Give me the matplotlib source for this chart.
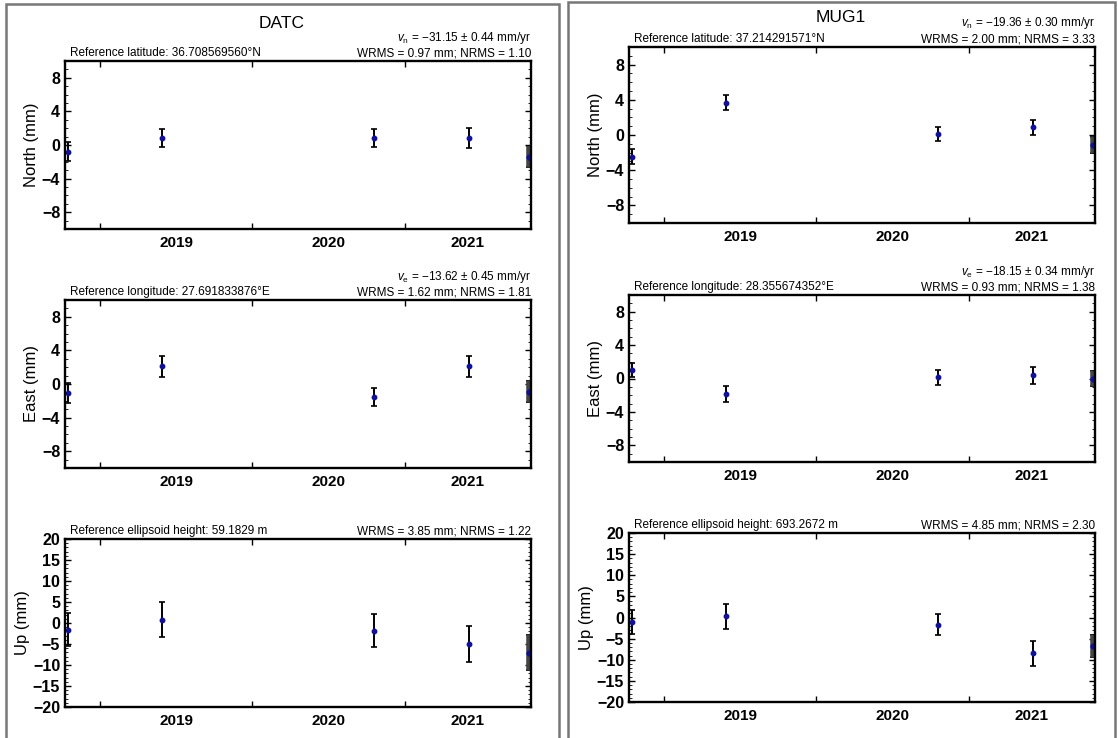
import numpy as np
import matplotlib
matplotlib.use("Agg")
import matplotlib.pyplot as plt
from matplotlib.patches import Rectangle
from matplotlib.ticker import MultipleLocator

plt.rcParams['font.family'] = ['Liberation Sans', 'DejaVu Sans']
plt.rcParams['mathtext.fontset'] = 'custom'
plt.rcParams['mathtext.it'] = 'Liberation Sans:italic'
plt.rcParams['mathtext.rm'] = 'Liberation Sans'

# epochs (decimal year), same for both stations
t = [2018.79, 2019.405, 2020.80, 2021.42, 2021.82]
xmin, xmax = 2018.77, 2021.83

# DATC
datc_n = [-0.8, 0.86, 0.78, 0.86, -1.37]
datc_n_err = [1.1, 1.07, 1.07, 1.2, 1.3]
datc_e = [-1.1, 2.13, -1.54, 2.13, -0.9]
datc_e_err = [1.18, 1.24, 1.12, 1.24, 1.24]
datc_u = [-1.6, 0.8, -1.8, -5.0, -7.1]
datc_u_err = [3.9, 4.2, 3.9, 4.2, 4.2]

# MUG1
mug1_n = [-2.45, 3.68, 0.08, 0.87, -1.15]
mug1_n_err = [0.87, 0.81, 0.8, 0.85, 0.9]
mug1_e = [1.03, -1.87, 0.12, 0.4, 0.0]
mug1_e_err = [0.8, 0.93, 0.85, 1.0, 0.95]
mug1_u = [-1.1, 0.24, -1.74, -8.5, -6.7]
mug1_u_err = [2.8, 3.0, 2.5, 2.9, 2.6]

year_labels = ['2019', '2020', '2021']
years = [2019, 2020, 2021]

stations = [
    dict(name='DATC', cx=282 / 1118, ty=1 - 24 / 738, x0=65 / 1118,
         boxes=[(61, 229), (300, 468), (539, 707)],
         data=[(datc_n, datc_n_err), (datc_e, datc_e_err), (datc_u, datc_u_err)],
         left=['Reference latitude: 36.708569560°N',
               'Reference longitude: 27.691833876°E',
               'Reference ellipsoid height: 59.1829 m'],
         vel=[r'$v_\mathrm{n}$ = −31.15 ± 0.44 mm/yr',
              r'$v_\mathrm{e}$ = −13.62 ± 0.45 mm/yr', None],
         rms=['WRMS = 0.97 mm; NRMS = 1.10',
              'WRMS = 1.62 mm; NRMS = 1.81',
              'WRMS = 3.85 mm; NRMS = 1.22']),
    dict(name='MUG1', cx=841 / 1118, ty=1 - 17 / 738, x0=629 / 1118,
         boxes=[(47, 223), (295, 462), (533, 702)],
         data=[(mug1_n, mug1_n_err), (mug1_e, mug1_e_err), (mug1_u, mug1_u_err)],
         left=['Reference latitude: 37.214291571°N',
               'Reference longitude: 28.355674352°E',
               'Reference ellipsoid height: 693.2672 m'],
         vel=[r'$v_\mathrm{n}$ = −19.36 ± 0.30 mm/yr',
              r'$v_\mathrm{e}$ = −18.15 ± 0.34 mm/yr', None],
         rms=['WRMS = 2.00 mm; NRMS = 3.33',
              'WRMS = 0.93 mm; NRMS = 1.38',
              'WRMS = 4.85 mm; NRMS = 2.30']),
]
ylabels = ['North (mm)', 'East (mm)', 'Up (mm)']

fig = plt.figure(figsize=(11.18, 7.38), dpi=100)

# panel frames
fig.patches.append(Rectangle((6 / 1118, -0.05), 553 / 1118, 1.05 - 4 / 738,
                             transform=fig.transFigure, fill=False,
                             edgecolor='#777777', lw=1.8))
fig.patches.append(Rectangle((568 / 1118, -0.05), 547 / 1118, 1.05 - 2 / 738,
                             transform=fig.transFigure, fill=False,
                             edgecolor='#777777', lw=1.8))

for st in stations:
    fig.text(st['cx'], st['ty'], st['name'], ha='center', va='center', fontsize=12.5)
    for i, (top, bot) in enumerate(st['boxes']):
        ax = fig.add_axes([st['x0'], 1 - bot / 738, 466 / 1118, (bot - top) / 738])
        y, err = st['data'][i]
        ax.errorbar(t, y, yerr=err, fmt='o', color='#1010a0', ms=3.2,
                    ecolor='black', elinewidth=1.4, capsize=2, capthick=1.2)
        # last epoch sits on the right frame, drawn as a thick grey bar
        ax.errorbar(t[-1:], y[-1:], yerr=err[-1:], fmt='none',
                    ecolor='#444444', elinewidth=4, capsize=0)
        ax.plot(t[-1:], y[-1:], 'o', color='#1010a0', ms=3.2)
        ax.set_xlim(xmin, xmax)
        if i < 2:
            ax.set_ylim(-10, 10)
            ax.yaxis.set_minor_locator(MultipleLocator(1))
            ax.set_yticks([-8, -4, 0, 4, 8])
            ax.set_yticklabels(['−8', '−4', '0', '4', '8'])
        else:
            ax.set_ylim(-20, 20)
            ax.yaxis.set_minor_locator(MultipleLocator(1))
            ax.set_yticks(range(-20, 21, 5))
            ax.set_yticklabels([str(v).replace('-', '−') for v in range(-20, 21, 5)])
        ax.set_xticks(years)
        ax.set_xticklabels([])
        mids = [2019.5, 2020.5, (2021 + xmax) / 2]
        ax.set_xticks(mids, minor=True)
        ax.set_xticklabels(year_labels, minor=True, fontsize=11, fontweight='bold')
        ax.tick_params(axis='x', which='major', direction='in', length=4,
                       top=True, bottom=True, width=1)
        ax.tick_params(axis='x', which='minor', length=0, pad=5)
        ax.tick_params(axis='y', which='major', direction='in', length=4,
                       left=True, right=True, labelsize=11.5, width=1)
        ax.tick_params(axis='y', which='minor', direction='in', length=2,
                       left=True, right=True)
        for lab in ax.get_yticklabels():
            lab.set_fontweight('bold')
        for sp in ax.spines.values():
            sp.set_linewidth(1.7)
        ax.set_ylabel(ylabels[i], fontsize=12, labelpad=2)
        ax.text(0.01, 1.01, st['left'][i], transform=ax.transAxes,
                ha='left', va='bottom', fontsize=8.5)
        ax.text(1.0, 1.01, st['rms'][i], transform=ax.transAxes,
                ha='right', va='bottom', fontsize=8.5)
        if st['vel'][i] is not None:
            ax.text(1.0, 1.09, st['vel'][i], transform=ax.transAxes,
                    ha='right', va='bottom', fontsize=8.5)

fig.savefig('out.png', dpi=100)
